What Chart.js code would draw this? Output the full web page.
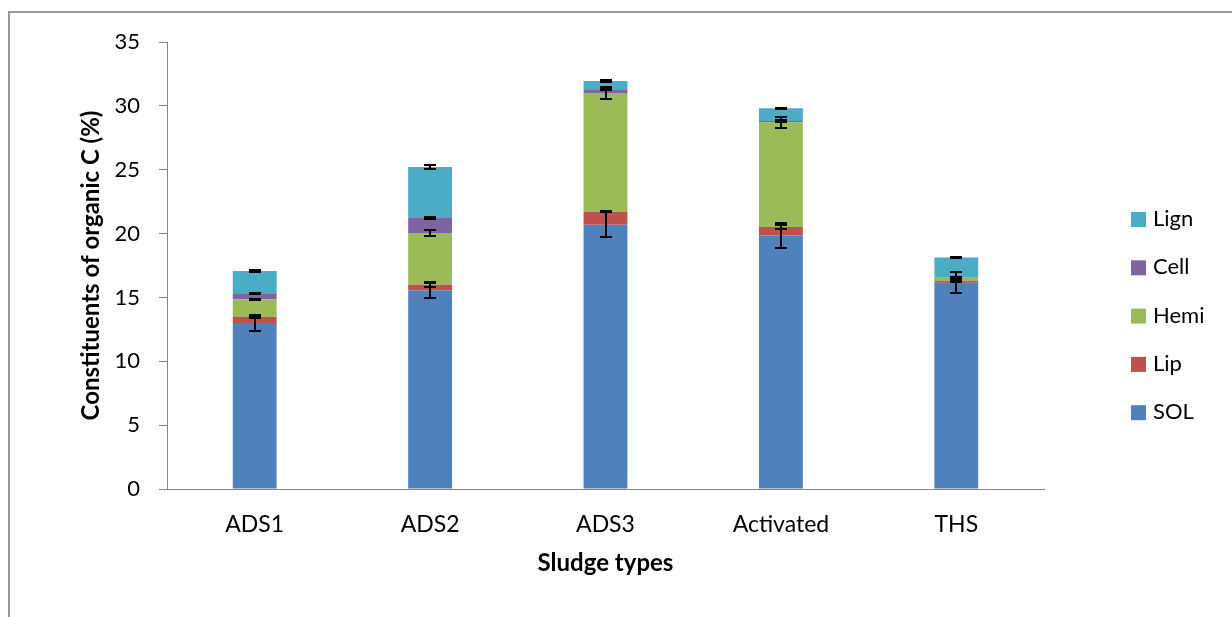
<!DOCTYPE html>
<html>
<head>
<meta charset="utf-8">
<title>Constituents of organic C</title>
<script src="https://cdn.jsdelivr.net/npm/chart.js@4.4.1/dist/chart.umd.min.js"></script>
<style>
    html, body { margin: 0; padding: 0; background: #fff; overflow: hidden; }
    #wrap { position: relative; width: 1232px; height: 617px; }
    #frame { position: absolute; left: 8px; top: 11px; width: 1400px; height: 800px;
             border-left: 2px solid #9a9a9a; border-top: 2px solid #9a9a9a; }
    #chart { position: absolute; left: 0; top: 0; }
</style>
</head>
<body>
<div id="wrap">
    <div id="frame"></div>
    <canvas id="chart" width="1232" height="617"></canvas>
</div>
<script>
const sludgeTypes = ['ADS1', 'ADS2', 'ADS3', 'Activated', 'THS'];

// stacked segments, bottom to top (%)
const sol  = [13.0, 15.55, 20.7, 19.85, 16.15];
const lip  = [0.47, 0.45, 1.0, 0.66, 0.16];
const hemi = [1.38, 4.05, 9.3, 8.2, 0.24];
const cell = [0.47, 1.17, 0.3, 0.1, 0.03];
const lign = [1.75, 4.0, 0.65, 1.0, 1.55];

// +/- error for each segment, drawn at the stacked top
const solErr  = [0.6, 0.6, 1.0, 1.0, 0.82];
const lipErr  = [0.1, 0.2, 0.05, 0.13, 0.08];
const hemiErr = [0.06, 0.22, 0.45, 0.43, 0.06];
const cellErr = [0.06, 0.05, 0.08, 0.05, 0.04];
const lignErr = [0.06, 0.18, 0.06, 0.05, 0.05];

const yTicks = { min: 0, max: 35, step: 5 };

const series = [
    { label: 'SOL',  values: sol,  errors: solErr,  color: '#4F81BD' },
    { label: 'Lip',  values: lip,  errors: lipErr,  color: '#C0504D' },
    { label: 'Hemi', values: hemi, errors: hemiErr, color: '#9BBB59' },
    { label: 'Cell', values: cell, errors: cellErr, color: '#8064A2' },
    { label: 'Lign', values: lign, errors: lignErr, color: '#4BACC6' }
];

const fontFamily = 'Lato, "Liberation Sans", sans-serif';

// error bars at the top of each stacked segment
const errorBars = {
    id: 'errorBars',
    afterDatasetsDraw(chart) {
        const ctx = chart.ctx;
        const y = chart.scales.y;
        ctx.save();
        ctx.strokeStyle = '#000';
        ctx.lineWidth = 2;
        series.forEach((s, i) => {
            const meta = chart.getDatasetMeta(i);
            meta.data.forEach((bar, j) => {
                let top = 0;
                for (let k = 0; k <= i; k++) top += series[k].values[j];
                const err = s.errors[j];
                const y1 = Math.round(y.getPixelForValue(top + err));
                const y2 = Math.round(y.getPixelForValue(top - err));
                const x = Math.round(bar.x);
                ctx.beginPath();
                ctx.moveTo(x, y1);
                ctx.lineTo(x, y2);
                ctx.moveTo(x - 6, y1);
                ctx.lineTo(x + 6, y1);
                ctx.moveTo(x - 6, y2);
                ctx.lineTo(x + 6, y2);
                ctx.stroke();
            });
        });
        ctx.restore();
    }
};

// legend on the right, top item is the top of the stack
const sideLegend = {
    id: 'sideLegend',
    afterDraw(chart) {
        const ctx = chart.ctx;
        const area = chart.chartArea;
        const x = area.right + 87;
        let yPos = area.top + 177;
        ctx.save();
        ctx.font = '22px ' + fontFamily;
        ctx.textBaseline = 'middle';
        ctx.textAlign = 'left';
        for (let i = chart.data.datasets.length - 1; i >= 0; i--) {
            const ds = chart.data.datasets[i];
            ctx.fillStyle = ds.backgroundColor;
            ctx.fillRect(x, yPos - 7, 15, 15);
            ctx.fillStyle = '#000';
            ctx.fillText(ds.label, x + 22, yPos);
            yPos += 48.3;
        }
        ctx.restore();
    }
};

function buildChart() {
    const ctx = document.getElementById('chart').getContext('2d');
    return new Chart(ctx, {
        type: 'bar',
        data: {
            labels: sludgeTypes,
            datasets: series.map(s => ({
                label: s.label,
                data: s.values,
                backgroundColor: s.color,
                borderWidth: 0,
                categoryPercentage: 1,
                barPercentage: 0.25
            }))
        },
        options: {
            responsive: false,
            animation: false,
            layout: { padding: { left: 0, top: 42, right: 188, bottom: 0 } },
            plugins: {
                legend: { display: false },
                tooltip: { enabled: false }
            },
            scales: {
                x: {
                    stacked: true,
                    grid: { display: false },
                    border: { color: '#868686', width: 1 },
                    ticks: { color: '#000', padding: 14, font: { family: fontFamily, size: 23 } },
                    title: {
                        display: true,
                        text: 'Sludge types',
                        color: '#000',
                        font: { family: fontFamily, size: 24, weight: 'bold' },
                        padding: { top: 0, bottom: 39 }
                    },
                    afterFit: scale => { scale.height = 128; }
                },
                y: {
                    stacked: true,
                    min: yTicks.min,
                    max: yTicks.max,
                    grid: { drawOnChartArea: false, drawTicks: true, tickLength: 8, color: '#868686' },
                    border: { color: '#868686', width: 1 },
                    ticks: { stepSize: yTicks.step, color: '#000', padding: 19, font: { family: fontFamily, size: 22 } },
                    title: {
                        display: true,
                        text: 'Constituents of organic C (%)',
                        color: '#000',
                        font: { family: fontFamily, size: 24, weight: 'bold' },
                        padding: { top: 77, bottom: 0 }
                    },
                    afterFit: scale => { scale.width = 167; }
                }
            }
        },
        plugins: [errorBars, sideLegend]
    });
}

buildChart();
</script>
</body>
</html>
